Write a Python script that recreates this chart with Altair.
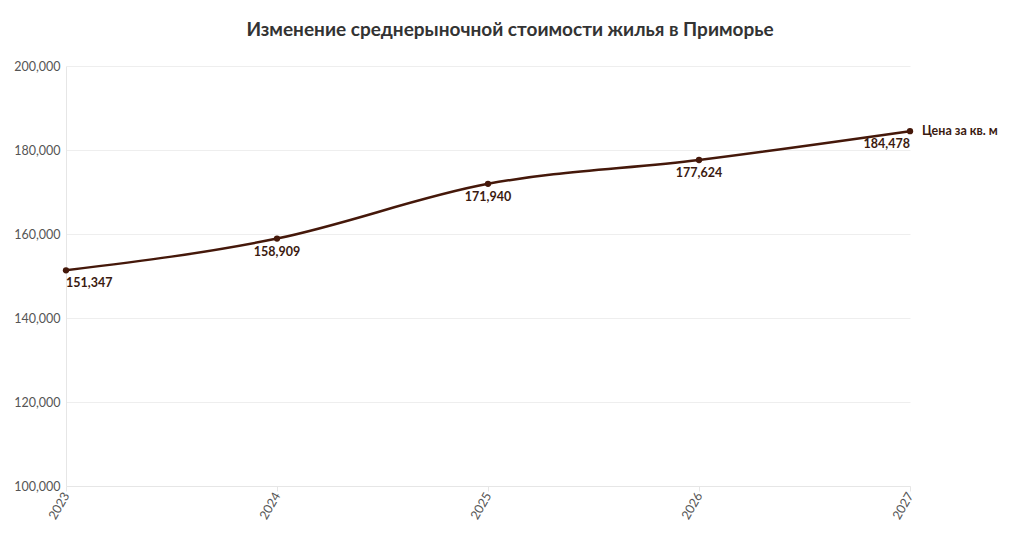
import altair as alt
import pandas as pd

years = [2023, 2024, 2025, 2026, 2027]
prices = [151347, 158909, 171940, 177624, 184478]
label_align = ["left", "center", "center", "center", "right"]
series_name = "Цена за кв. м"
title_text = "Изменение среднерыночной стоимости жилья в Приморье"

df = pd.DataFrame({"year": years, "price": prices, "align": label_align})
df["label"] = df["price"].map(lambda v: f"{v:,}")

LINE = "#45180a"
FONT = "Lato"

x = alt.X("year:Q", scale=alt.Scale(domain=[2023, 2027], nice=False),
          axis=alt.Axis(values=years, format="d", labelAngle=-60, labelAlign="right",
                        labelBaseline="middle", labelColor="#555", labelFontSize=12.5,
                        labelFont=FONT, grid=False, domainColor="#e6e6e6", tickColor="#e6e6e6",
                        tickSize=5, labelPadding=2, title=None))
y = alt.Y("price:Q", scale=alt.Scale(domain=[100000, 200000], nice=False, zero=False),
          axis=alt.Axis(values=[100000, 120000, 140000, 160000, 180000, 200000], format=",d",
                        labelColor="#555", labelFontSize=12.5, labelFont=FONT, grid=True,
                        gridColor="#eeeeee", domainColor="#e6e6e6", ticks=False,
                        labelPadding=6, title=None))

base = alt.Chart(df)
line = base.mark_line(interpolate="monotone", color=LINE, strokeWidth=2.5).encode(x=x, y=y)
pts = base.mark_circle(color=LINE, size=40, opacity=1).encode(x=x, y=y)

def lbl(al):
    return base.transform_filter(alt.datum.align == al).mark_text(
        align=al, baseline="top", dy=7, font=FONT, fontWeight="bold", fontSize=12.5, color="#3b1a10"
    ).encode(x=x, y=y, text="label:N")

last = pd.DataFrame({"year": [years[-1]], "price": [prices[-1]], "name": [series_name]})
name = alt.Chart(last).mark_text(align="left", baseline="middle", dx=12, font=FONT,
                                 fontWeight="bold", fontSize=12.5, color="#3b1a10").encode(
    x=x, y=y, text="name:N")

chart = alt.layer(line, pts, lbl("left"), lbl("center"), lbl("right"), name).properties(
    width=844, height=420,
    title=alt.TitleParams(title_text, font=FONT, fontSize=19, fontWeight="bold", color="#333",
                          anchor="middle", offset=20, dx=22),
    autosize=alt.AutoSizeParams(type="none"),
    padding={"left": 58, "top": 58, "right": 100, "bottom": 50},
).configure_view(stroke=None)

chart.save("out.html", embed_options={"renderer": "svg", "actions": False})
